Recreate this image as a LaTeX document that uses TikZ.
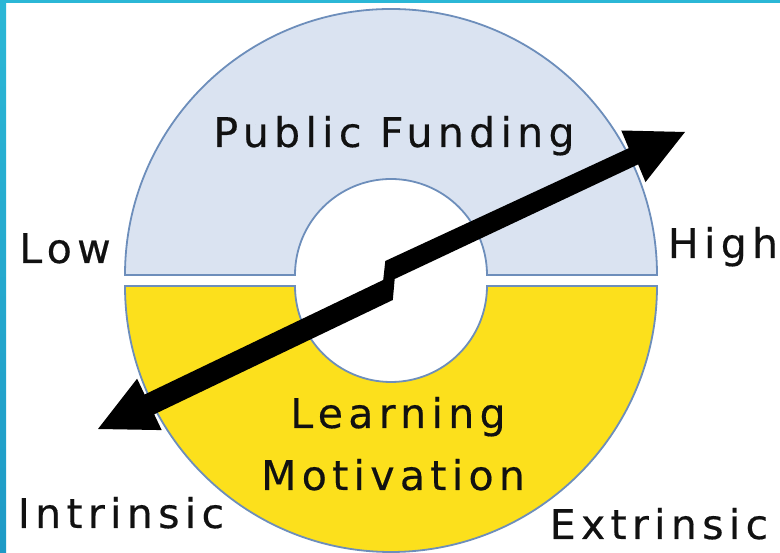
\documentclass[tikz,border=0pt]{standalone}
\usepackage{fontspec}
\setmainfont{DejaVu Sans}[LetterSpace=13,FakeBold=0.4]
\definecolor{ringblue}{HTML}{DAE3F1}
\definecolor{ringyellow}{HTML}{FCE01C}
\definecolor{ringedge}{HTML}{6D8EBB}
\definecolor{framecyan}{HTML}{2BB7D6}
\definecolor{framedark}{HTML}{1E9AC6}
\definecolor{inktext}{HTML}{111111}
\begin{document}
\begin{tikzpicture}[x=1pt,y=1pt,
  lbl/.style={font=\fontsize{41}{49}\selectfont, inner sep=0pt, anchor=base, text=inktext},
  ring/.style={draw=ringedge, line width=1.8pt}]
\useasboundingbox (0,0) rectangle (780,553);
\fill[white] (0,0) rectangle (780,553);
% frame strips
\shade[top color=framecyan, bottom color=framedark] (0,0) rectangle (6,553);
\fill[framecyan] (0,550) rectangle (780,553);
% upper half ring
\path[ring, fill=ringblue] (125,278) arc[start angle=180,end angle=0,radius=266pt]
  -- (487,278) arc[start angle=0,end angle=180,radius=96pt] -- cycle;
% lower half ring
\path[ring, fill=ringyellow] (125,267) arc[start angle=180,end angle=360,radius=266pt]
  -- (487,267) arc[start angle=360,end angle=180,radius=96pt] -- cycle;
% labels
\node[lbl] (pf) at (394,406) {Public Funding};
\node[lbl] (low) at (65,290) {Low};
\node[lbl] (high) at (723,295) {High};
\node[lbl] (intr) at (121,25) {Intrinsic};
\node[lbl] (extr) at (659,14) {Extrinsic};
\node[lbl] (learn) at (398,125) {Learning};
\node[lbl] (motiv) at (393,63) {Motivation};
% arrow
\coordinate (T1) at (685,421);
\coordinate (H1b) at (645.5,370.9);
\coordinate (S1b) at (638.1,388.6);
\coordinate (U1b) at (394.7,274);
\coordinate (L2r) at (392.8,253);
\coordinate (S2b) at (154.2,138.7);
\coordinate (H2b) at (161.7,122.9);
\coordinate (T2) at (98,124);
\coordinate (H2a) at (137.1,174.3);
\coordinate (S2a) at (144.6,158.5);
\coordinate (L2t) at (383.2,273);
\coordinate (U1t) at (385.3,292);
\coordinate (S1a) at (628.7,404.8);
\coordinate (H1a) at (621.3,422.5);
\fill[black] (T1) -- (H1b) -- (S1b) -- (U1b) -- (L2r) -- (S2b) -- (H2b) -- (T2)
  -- (H2a) -- (S2a) -- (L2t) -- (U1t) -- (S1a) -- (H1a) -- cycle;
\end{tikzpicture}
\end{document}
